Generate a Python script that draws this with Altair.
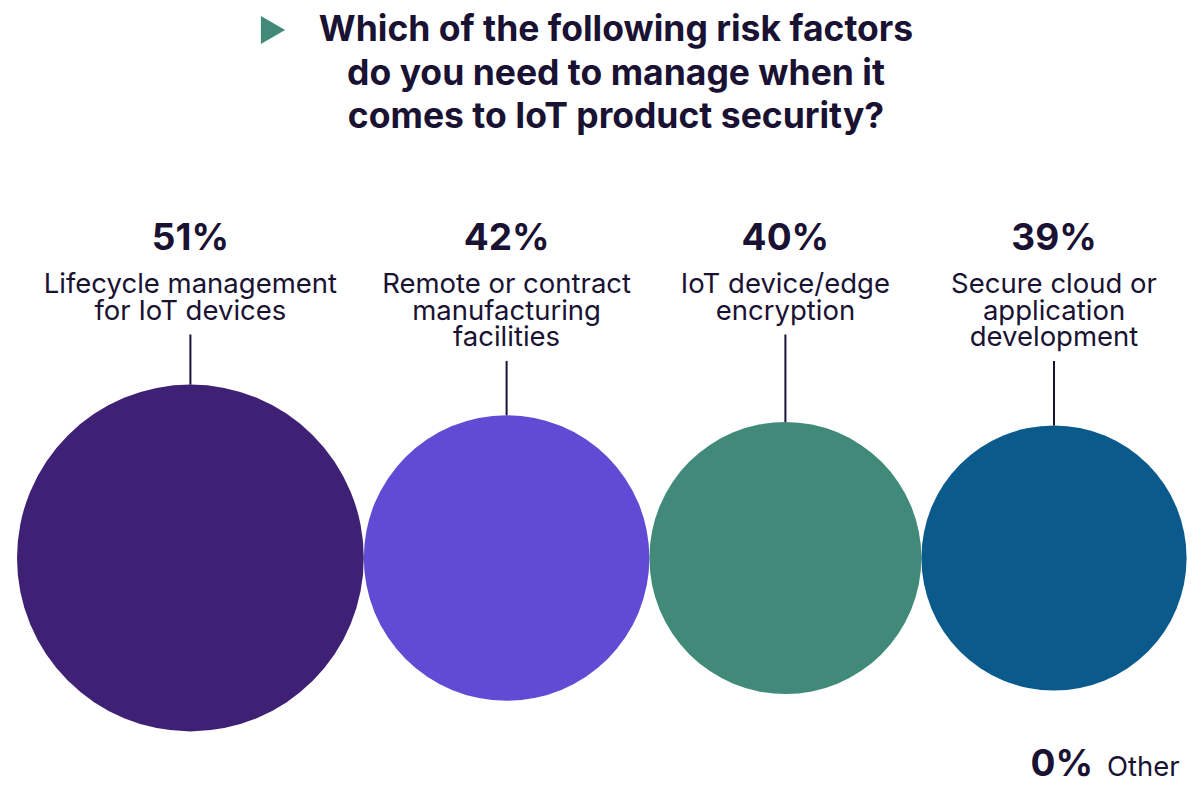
import altair as alt
import pandas as pd

# ---- data ----
categories = [
    "Lifecycle management\nfor IoT devices",
    "Remote or contract\nmanufacturing\nfacilities",
    "IoT device/edge\nencryption",
    "Secure cloud or\napplication\ndevelopment",
]
values = [51, 42, 40, 39]
colors = ["#3E2175", "#614BD4", "#418A7A", "#0B5A8C"]
other_label = ["Other"]
other_value = [0]
title_text = ["Which of the following risk factors\ndo you need to manage when it\ncomes to IoT product security?"]

TEXT = "#1A1233"
FONT = "Inter"

df = pd.DataFrame({"label": categories, "value": values, "color": colors,
                   "order": list(range(len(values)))})
other_df = pd.DataFrame({"label": other_label, "value": other_value})
title_df = pd.DataFrame({"t": title_text})

W, H = 1185, 775
xs = alt.Scale(domain=[8, 8 + W])
ys = alt.Scale(domain=[8 + H, 8])

base = (
    alt.Chart(df)
    .transform_calculate(d="6.8 * datum.value")
    .transform_window(cum="sum(d)", sort=[alt.SortField("order")], frame=[None, 0])
    .transform_calculate(
        cx="17 + datum.cum - datum.d / 2",
        cy="558",
        size="datum.d * datum.d",
        top="558 - datum.d / 2",
        nlines="length(split(datum.label, '\\n'))",
        pct="datum.value + '%'",
    )
    .transform_calculate(
        y_pct="250",
        y_lab="293",
        y_line="293 + (datum.nlines - 1) * 26.5 + 15",
    )
)

circles = base.mark_circle(opacity=1).encode(
    x=alt.X("cx:Q", scale=xs, axis=None),
    y=alt.Y("cy:Q", scale=ys, axis=None),
    size=alt.Size("size:Q", scale=None, legend=None),
    color=alt.Color("color:N", scale=None, legend=None),
)

rules = base.mark_rule(color=TEXT, strokeWidth=2).encode(
    x=alt.X("cx:Q", scale=xs, axis=None),
    y=alt.Y("y_line:Q", scale=ys, axis=None),
    y2="top:Q",
)

pct_text = base.mark_text(font=FONT, fontSize=37, fontWeight=700, color=TEXT,
                          align="center", baseline="alphabetic").encode(
    x=alt.X("cx:Q", scale=xs, axis=None),
    y=alt.Y("y_pct:Q", scale=ys, axis=None),
    text="pct:N",
)

lab_text = base.mark_text(font=FONT, fontSize=27.5, fontWeight=400, color=TEXT,
                          align="center", baseline="alphabetic",
                          lineBreak="\n", lineHeight=26.5).encode(
    x=alt.X("cx:Q", scale=xs, axis=None),
    y=alt.Y("y_lab:Q", scale=ys, axis=None),
    text="label:N",
)

title = alt.Chart(title_df).transform_calculate(x="616", y="41").mark_text(
    font=FONT, fontSize=35.5, fontWeight=700, color=TEXT, align="center",
    baseline="alphabetic", lineBreak="\n", lineHeight=43.5
).encode(
    x=alt.X("x:Q", scale=xs, axis=None),
    y=alt.Y("y:Q", scale=ys, axis=None),
    text="t:N",
)

marker = alt.Chart(title_df).transform_calculate(x="273", y="30").mark_point(
    shape="triangle-right", filled=True, opacity=1, color="#418A7A", size=784
).encode(
    x=alt.X("x:Q", scale=xs, axis=None),
    y=alt.Y("y:Q", scale=ys, axis=None),
)

other_base = alt.Chart(other_df).transform_calculate(
    pct="datum.value + '%'", xp="1093", xl="1107", y="776"
)
other_pct = other_base.mark_text(font=FONT, fontSize=37, fontWeight=700, color=TEXT,
                                 align="right", baseline="alphabetic").encode(
    x=alt.X("xp:Q", scale=xs, axis=None),
    y=alt.Y("y:Q", scale=ys, axis=None),
    text="pct:N",
)
other_lab = other_base.mark_text(font=FONT, fontSize=27.5, color=TEXT,
                                 align="left", baseline="alphabetic").encode(
    x=alt.X("xl:Q", scale=xs, axis=None),
    y=alt.Y("y:Q", scale=ys, axis=None),
    text="label:N",
)

chart = (
    alt.layer(circles, rules, pct_text, lab_text, title, marker, other_pct, other_lab)
    .properties(width=W, height=H, autosize=alt.AutoSizeParams(type="none"), padding=0)
    .configure_view(stroke=None, strokeWidth=0)
)

chart.save("out.html", embed_options={"renderer": "svg", "actions": False})
